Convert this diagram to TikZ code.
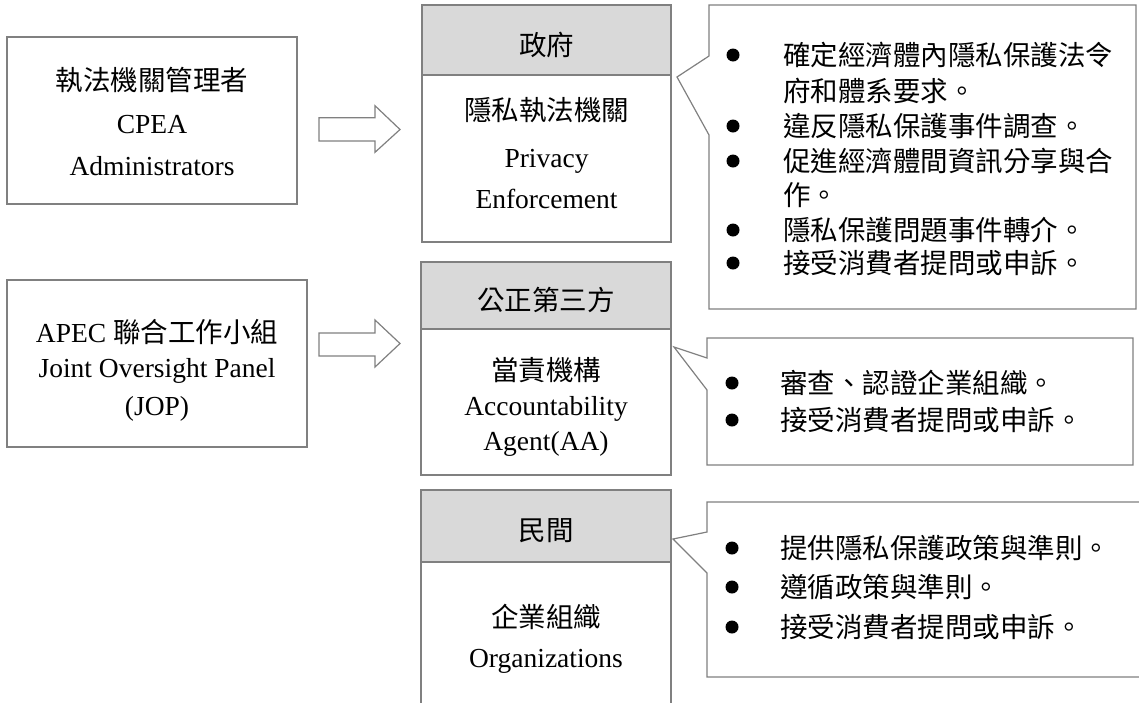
\documentclass[tikz,border=0pt]{standalone}
\usepackage{fontspec}
\setmainfont{Liberation Serif}
\newfontfamily\cjk{Noto Sans CJK TC}
\definecolor{linegray}{HTML}{808080}
\definecolor{hdrgray}{HTML}{D9D9D9}
\begin{document}
\begin{tikzpicture}[x=1pt,y=-1pt,
  box/.style={draw=linegray, line width=1.2pt, fill=white, inner sep=0pt},
  hdr/.style={box, fill=hdrgray},
  txt/.style={anchor=base, yshift=-10pt, inner sep=0pt, font=\fontsize{27.5}{33}\selectfont},
  ctxt/.style={txt, font=\cjk\fontsize{27.5}{33}\selectfont},
  ltxt/.style={ctxt, anchor=base west},
  bul/.style={circle, fill=black, minimum size=13pt, inner sep=0pt},
  blockarrow/.style={draw=linegray, line width=1.2pt, fill=white, line join=miter},
  callout/.style={draw=linegray, line width=1.2pt, fill=white, line join=miter}]
\useasboundingbox (0,0) rectangle (1139,702);

% left boxes
\node[box, minimum width=290pt, minimum height=167pt] (adm) at (152,120.5) {};
\node[ctxt] (adm1) at (152,80) {執法機關管理者};
\node[txt] (adm2) at (152,123) {CPEA};
\node[txt] (adm3) at (152,165) {Administrators};

\node[box, minimum width=300pt, minimum height=167pt] (jop) at (157,363.5) {};
\node[txt] (jop1) at (157,332) {APEC {\cjk 聯合工作小組}};
\node[txt] (jop2) at (157,367) {Joint Oversight Panel};
\node[txt] (jop3) at (157,405) {(JOP)};

% block arrows
\draw[blockarrow] (319,117.7) -- (375,117.7) -- (375,105.7) -- (400,129.5) -- (375,152.3) -- (375,141) -- (319,141) -- cycle;
\draw[blockarrow] (319,333) -- (375,333) -- (375,320) -- (400,343.5) -- (375,367) -- (375,356) -- (319,356) -- cycle;

% government
\node[box, minimum width=249pt, minimum height=167pt] (govb) at (546.5,158.5) {};
\node[hdr, minimum width=249pt, minimum height=70pt] (govh) at (546.5,40) {};
\node[ctxt] (govt) at (546.5,45) {政府};
\node[ctxt] (gov1) at (546.5,110) {隱私執法機關};
\node[txt] (gov2) at (546.5,157) {Privacy};
\node[txt] (gov3) at (546.5,198) {Enforcement};

% accountability agent
\node[box, minimum width=250pt, minimum height=146pt] (aab) at (546,402) {};
\node[hdr, minimum width=250pt, minimum height=67pt] (aah) at (546,295.5) {};
\node[ctxt] (aat) at (546,300) {公正第三方};
\node[ctxt] (aa1) at (546,370) {當責機構};
\node[txt] (aa2) at (546,405) {Accountability};
\node[txt] (aa3) at (546,440) {Agent(AA)};

% organizations
\node[box, minimum width=250pt, minimum height=168pt] (orgb) at (546,646) {};
\node[hdr, minimum width=250pt, minimum height=72pt] (orgh) at (546,526) {};
\node[ctxt] (orgt) at (546,530) {民間};
\node[ctxt] (org1) at (546,617) {企業組織};
\node[txt] (org2) at (546,657) {Organizations};

% callouts
\coordinate (c1tip) at (677,77);
\coordinate (c2tip) at (674,347);
\coordinate (c3tip) at (673,539);
\draw[callout] (709,5) -- (1136,5) -- (1136,309) -- (709,309) -- (709,135) -- (c1tip) -- (709,56) -- cycle;
\draw[callout] (707,338) -- (1133,338) -- (1133,465) -- (707,465) -- (707,390) -- (c2tip) -- (707,358) -- cycle;
\draw[callout] (707,502) -- (1150,502) -- (1150,677) -- (707,677) -- (707,573) -- (c3tip) -- (707,532) -- cycle;

% callout 1 text
\node[bul] (b11) at (733,55) {};
\node[ltxt] (t11) at (783,55) {確定經濟體內隱私保護法令};
\node[ltxt] (t11b) at (783,91) {府和體系要求。};
\node[bul] (b12) at (733,126) {};
\node[ltxt] (t12) at (783,126) {違反隱私保護事件調查。};
\node[bul] (b13) at (733,161) {};
\node[ltxt] (t13) at (783,161) {促進經濟體間資訊分享與合};
\node[ltxt] (t13b) at (783,195) {作。};
\node[bul] (b14) at (733,230) {};
\node[ltxt] (t14) at (783,230) {隱私保護問題事件轉介。};
\node[bul] (b15) at (733,263) {};
\node[ltxt] (t15) at (783,263) {接受消費者提問或申訴。};

% callout 2 text
\node[bul] (b21) at (732,383) {};
\node[ltxt] (t21) at (780,383) {審查、認證企業組織。};
\node[bul] (b22) at (732,420) {};
\node[ltxt] (t22) at (780,420) {接受消費者提問或申訴。};

% callout 3 text
\node[bul] (b31) at (732,548) {};
\node[ltxt] (t31) at (780,548) {提供隱私保護政策與準則。};
\node[bul] (b32) at (732,587) {};
\node[ltxt] (t32) at (780,587) {遵循政策與準則。};
\node[bul] (b33) at (732,627) {};
\node[ltxt] (t33) at (780,627) {接受消費者提問或申訴。};
\end{tikzpicture}
\end{document}
